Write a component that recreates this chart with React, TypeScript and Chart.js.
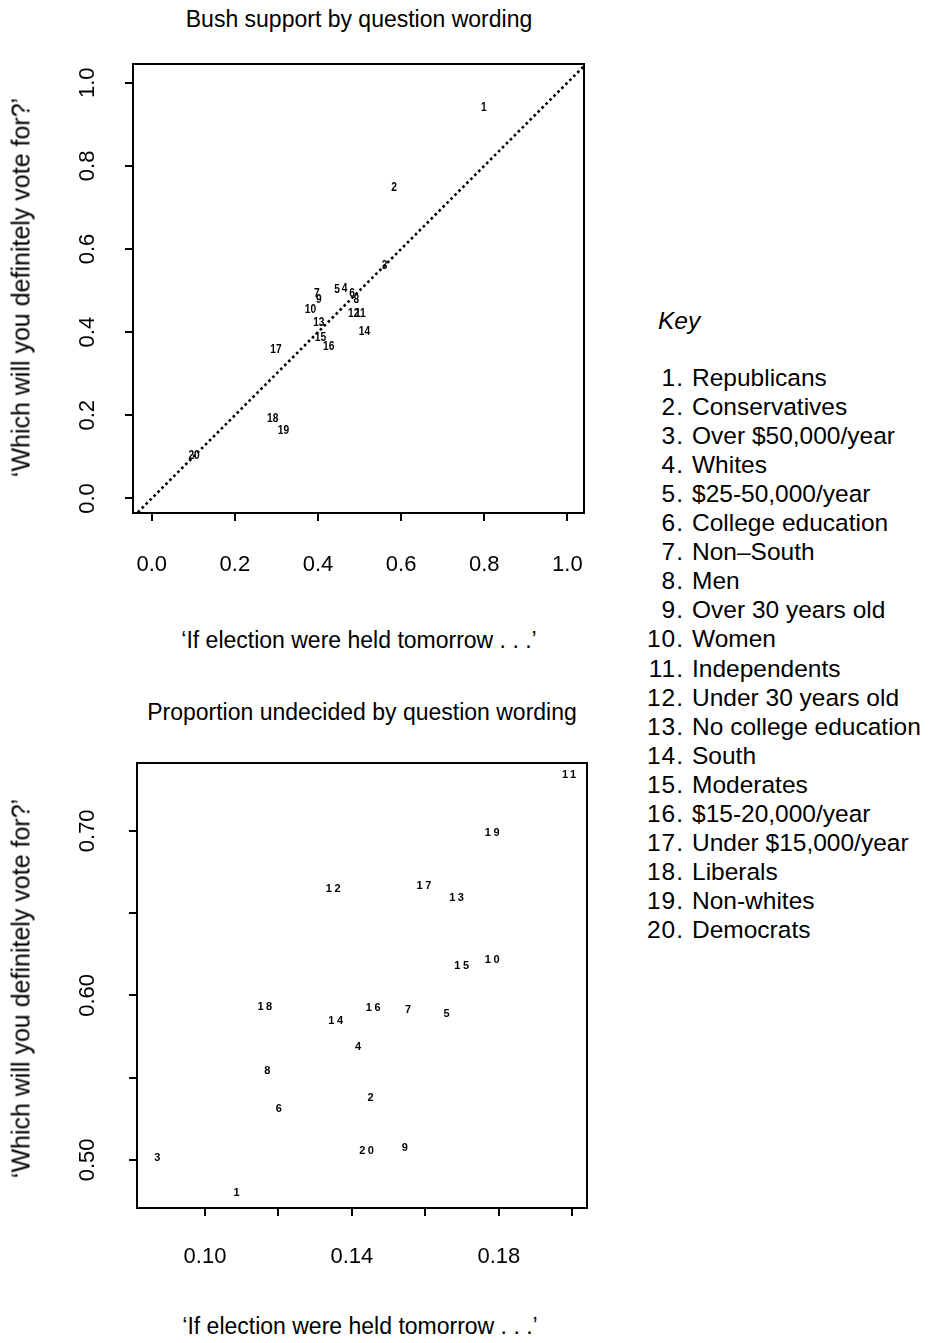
import React, { useEffect, useRef } from "react";
import { Chart, registerables } from "chart.js";

Chart.register(...registerables);

// ---------- data ----------
const groupIds = [1, 2, 3, 4, 5, 6, 7, 8, 9, 10, 11, 12, 13, 14, 15, 16, 17, 18, 19, 20];
const groupNames = [
  "Republicans",
  "Conservatives",
  "Over $50,000/year",
  "Whites",
  "$25-50,000/year",
  "College education",
  "Non\u2013South",
  "Men",
  "Over 30 years old",
  "Women",
  "Independents",
  "Under 30 years old",
  "No college education",
  "South",
  "Moderates",
  "$15-20,000/year",
  "Under $15,000/year",
  "Liberals",
  "Non-whites",
  "Democrats",
];

// Bush support: 'If election were held tomorrow' (x) vs 'Which will you definitely vote for?' (y)
const supportTomorrow = [
  0.799, 0.583, 0.56, 0.464, 0.446, 0.482, 0.397, 0.492, 0.402, 0.382,
  0.502, 0.486, 0.402, 0.512, 0.406, 0.426, 0.299, 0.291, 0.317, 0.102,
];
const supportDefinitely = [
  0.941, 0.748, 0.56, 0.504, 0.503, 0.493, 0.493, 0.477, 0.479, 0.453,
  0.445, 0.445, 0.423, 0.4, 0.387, 0.366, 0.357, 0.192, 0.162, 0.102,
];

// Proportion undecided
const undecidedTomorrow = [
  0.1086, 0.1451, 0.087, 0.1417, 0.1658, 0.1201, 0.1553, 0.117, 0.1544, 0.1782,
  0.1991, 0.1349, 0.1685, 0.1356, 0.1699, 0.1458, 0.1596, 0.1163, 0.1782, 0.144,
];
const undecidedDefinitely = [
  0.4801, 0.5379, 0.501, 0.5688, 0.5885, 0.5308, 0.5911, 0.5543, 0.5071, 0.6215,
  0.7339, 0.6645, 0.659, 0.5846, 0.618, 0.5925, 0.6665, 0.5931, 0.6985, 0.5057,
];

const diagonalLine = [-0.1, 1.1];

const topXTicks = [0, 0.2, 0.4, 0.6, 0.8, 1.0];
const topXTickLabels = ["0.0", "0.2", "0.4", "0.6", "0.8", "1.0"];
const topYTicks = [0, 0.2, 0.4, 0.6, 0.8, 1.0];
const topYTickLabels = ["0.0", "0.2", "0.4", "0.6", "0.8", "1.0"];
const bottomXTicks = [0.1, 0.12, 0.14, 0.16, 0.18, 0.2];
const bottomXTickLabels = ["0.10", "", "0.14", "", "0.18", ""];
const bottomYTicks = [0.5, 0.55, 0.6, 0.65, 0.7];
const bottomYTickLabels = ["0.50", "", "0.60", "", "0.70"];

const topTitle = "Bush support by question wording";
const bottomTitle = "Proportion undecided by question wording";
const xAxisTitle = "\u2018If election were held tomorrow . . .\u2019";
const yAxisTitle = "\u2018Which will you definitely vote for?\u2019";

const FONT = '"Liberation Sans", Arial, Helvetica, sans-serif';

type PanelCfg = {
  xs: number[];
  ys: number[];
  xMin: number;
  xMax: number;
  yMin: number;
  yMax: number;
  xTicks: number[];
  xTickLabels: string[];
  yTicks: number[];
  yTickLabels: string[];
  withDiagonal: boolean;
  width: number;
  height: number;
  padding: { left: number; right: number; top: number; bottom: number };
  yAxisWidth: number;
  xAxisHeight: number;
  xLabelY: number;
  yLabelX: number;
  pointFont: string;
  pointScaleX: number;
  letterSpacing: number;
};

function makePlugin(cfg: PanelCfg) {
  return {
    id: "rStyleText",
    afterDatasetsDraw(chart: any) {
      const ctx = chart.ctx as CanvasRenderingContext2D;
      const meta = chart.getDatasetMeta(0);
      ctx.save();
      ctx.fillStyle = "#000";
      ctx.font = cfg.pointFont;
      ctx.textAlign = "center";
      ctx.textBaseline = "middle";
      (ctx as any).letterSpacing = `${cfg.letterSpacing}px`;
      meta.data.forEach((el: any, i: number) => {
        ctx.save();
        ctx.translate(el.x + cfg.letterSpacing / 2, el.y);
        ctx.scale(cfg.pointScaleX, 1);
        ctx.fillText(String(groupIds[i]), 0, 0);
        ctx.restore();
      });
      ctx.restore();
    },
    afterDraw(chart: any) {
      const ctx = chart.ctx as CanvasRenderingContext2D;
      const ca = chart.chartArea;
      const sx = chart.scales.x;
      const sy = chart.scales.y;
      ctx.save();
      ctx.strokeStyle = "#000";
      ctx.lineWidth = 2;
      ctx.strokeRect(ca.left, ca.top, ca.right - ca.left, ca.bottom - ca.top);
      ctx.fillStyle = "#000";
      ctx.font = `22px ${FONT}`;
      ctx.textAlign = "center";
      ctx.textBaseline = "middle";
      cfg.xTicks.forEach((v, i) => {
        const lbl = cfg.xTickLabels[i];
        if (!lbl) return;
        ctx.fillText(lbl, sx.getPixelForValue(v), cfg.xLabelY);
      });
      cfg.yTicks.forEach((v, i) => {
        const lbl = cfg.yTickLabels[i];
        if (!lbl) return;
        ctx.save();
        ctx.translate(cfg.yLabelX, sy.getPixelForValue(v));
        ctx.rotate(-Math.PI / 2);
        ctx.fillText(lbl, 0, 0);
        ctx.restore();
      });
      ctx.restore();
    },
  };
}

function Panel({ cfg, style }: { cfg: PanelCfg; style: React.CSSProperties }) {
  const ref = useRef<HTMLCanvasElement>(null);
  useEffect(() => {
    if (!ref.current) return;
    const datasets: any[] = [
      {
        data: cfg.xs.map((x, i) => ({ x, y: cfg.ys[i] })),
        pointRadius: 0,
        pointHoverRadius: 0,
        showLine: false,
      },
    ];
    if (cfg.withDiagonal) {
      datasets.push({
        data: diagonalLine.map((v) => ({ x: v, y: v })),
        showLine: true,
        borderColor: "#000",
        borderWidth: 2.6,
        borderDash: [2.6, 3],
        pointRadius: 0,
        fill: false,
      });
    }
    const gridOpts = {
      drawOnChartArea: false,
      drawTicks: true,
      tickLength: 8,
      lineWidth: 2,
      color: "#000",
    };
    const chart = new Chart(ref.current, {
      type: "scatter",
      data: { datasets },
      options: {
        animation: false,
        responsive: false,
        events: [],
        layout: { padding: cfg.padding },
        plugins: { legend: { display: false }, tooltip: { enabled: false }, title: { display: false } },
        scales: {
          x: {
            type: "linear",
            min: cfg.xMin,
            max: cfg.xMax,
            border: { display: false },
            grid: gridOpts,
            ticks: { display: false },
            afterBuildTicks: (s: any) => {
              s.ticks = cfg.xTicks.map((v) => ({ value: v }));
            },
            afterFit: (s: any) => {
              s.height = cfg.xAxisHeight;
            },
          },
          y: {
            type: "linear",
            min: cfg.yMin,
            max: cfg.yMax,
            border: { display: false },
            grid: gridOpts,
            ticks: { display: false },
            afterBuildTicks: (s: any) => {
              s.ticks = cfg.yTicks.map((v) => ({ value: v }));
            },
            afterFit: (s: any) => {
              s.width = cfg.yAxisWidth;
            },
          },
        },
      } as any,
      plugins: [makePlugin(cfg)],
    });
    return () => chart.destroy();
  }, [cfg]);
  return (
    <canvas
      ref={ref}
      width={cfg.width}
      height={cfg.height}
      style={{ position: "absolute", width: cfg.width, height: cfg.height, ...style }}
    />
  );
}

const topCfg: PanelCfg = {
  xs: supportTomorrow,
  ys: supportDefinitely,
  xMin: -0.045,
  xMax: 1.04,
  yMin: -0.035,
  yMax: 1.045,
  xTicks: topXTicks,
  xTickLabels: topXTickLabels,
  yTicks: topYTicks,
  yTickLabels: topYTickLabels,
  withDiagonal: true,
  width: 620,
  height: 600,
  padding: { left: 0, right: 36, top: 64, bottom: 47 },
  yAxisWidth: 133,
  xAxisHeight: 40,
  xLabelY: 565,
  yLabelX: 88,
  pointFont: `bold 12px ${FONT}`,
  pointScaleX: 0.85,
  letterSpacing: 0,
};

const bottomCfg: PanelCfg = {
  xs: undecidedTomorrow,
  ys: undecidedDefinitely,
  xMin: 0.0815,
  xMax: 0.204,
  yMin: 0.4708,
  yMax: 0.7412,
  xTicks: bottomXTicks,
  xTickLabels: bottomXTickLabels,
  yTicks: bottomYTicks,
  yTickLabels: bottomYTickLabels,
  withDiagonal: false,
  width: 620,
  height: 600,
  padding: { left: 0, right: 33, top: 63, bottom: 52 },
  yAxisWidth: 137,
  xAxisHeight: 40,
  xLabelY: 557,
  yLabelX: 88,
  pointFont: `bold 11px ${FONT}`,
  pointScaleX: 1,
  letterSpacing: 2.5,
};

const titleStyle = (top: number, cx: number): React.CSSProperties => ({
  position: "absolute",
  left: cx - 300,
  top,
  width: 600,
  textAlign: "center",
  fontFamily: FONT,
  fontSize: 23,
  lineHeight: "23px",
  color: "#000",
  whiteSpace: "nowrap",
});

const yTitleStyle = (cx: number, cy: number): React.CSSProperties => ({
  position: "absolute",
  left: cx - 250,
  top: cy - 12.5,
  width: 500,
  height: 25,
  textAlign: "center",
  fontFamily: FONT,
  fontSize: 25,
  lineHeight: "25px",
  color: "#000",
  whiteSpace: "nowrap",
  transform: "rotate(-90deg)",
  transformOrigin: "50% 50%",
});

export default function App() {
  return (
    <div
      style={{
        position: "absolute",
        left: 0,
        top: 0,
        width: 932,
        height: 1343,
        background: "#fff",
        overflow: "hidden",
      }}
    >
      <div style={titleStyle(8, 359)}>{topTitle}</div>
      <Panel cfg={topCfg} style={{ left: 0, top: 0 }} />
      <div style={titleStyle(629, 359)}>{xAxisTitle}</div>
      <div style={yTitleStyle(21, 287)}>{yAxisTitle}</div>

      <div style={titleStyle(701, 362)}>{bottomTitle}</div>
      <Panel cfg={bottomCfg} style={{ left: 0, top: 700 }} />
      <div style={titleStyle(1315, 360)}>{xAxisTitle}</div>
      <div style={yTitleStyle(21, 988)}>{yAxisTitle}</div>

      <div
        style={{
          position: "absolute",
          left: 658,
          top: 306,
          fontFamily: FONT,
          fontSize: 24.5,
          lineHeight: "29px",
          fontStyle: "italic",
          color: "#000",
        }}
      >
        Key
      </div>
      <div style={{ position: "absolute", left: 0, top: 363, fontFamily: FONT, fontSize: 24.5, color: "#000" }}>
        {groupIds.map((id, i) => (
          <div key={id} style={{ position: "absolute", top: i * 29.05, left: 0, height: 29, lineHeight: "29px", whiteSpace: "nowrap" }}>
            <span style={{ position: "absolute", left: 624, width: 60, textAlign: "right", letterSpacing: 1 }}>{id}.</span>
            <span style={{ position: "absolute", left: 692 }}>{groupNames[i]}</span>
          </div>
        ))}
      </div>
    </div>
  );
}
